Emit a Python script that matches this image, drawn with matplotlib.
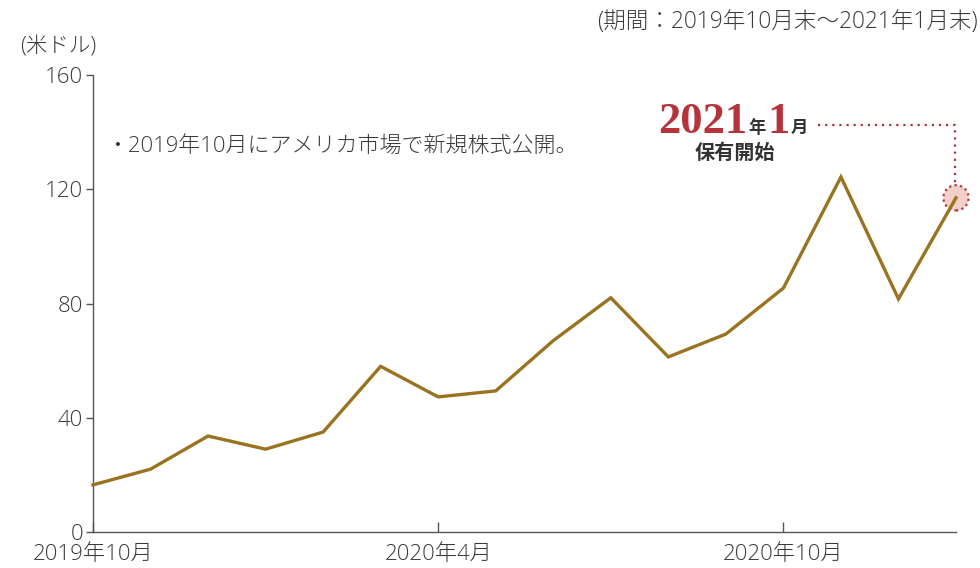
import matplotlib
matplotlib.use("Agg")
import matplotlib.pyplot as plt

plt.rcParams['font.family'] = ['Open Sans', 'Noto Sans CJK JP', 'DejaVu Sans']
plt.rcParams['font.weight'] = 'light'

months = ["2019-10", "2019-11", "2019-12", "2020-01", "2020-02", "2020-03",
          "2020-04", "2020-05", "2020-06", "2020-07", "2020-08", "2020-09",
          "2020-10", "2020-11", "2020-12", "2021-01"]
prices = [16.5, 22, 33.6, 29, 35, 58, 47.3, 49.4, 67, 82, 61.3, 69.3, 85.4, 124.3, 81.6, 117]
xtick_idx = [0, 6, 12]
xtick_labels = ["2019年10月", "2020年4月", "2020年10月"]
yticks = [0, 40, 80, 120, 160]

fig = plt.figure(figsize=(9.8, 5.68), dpi=100)
ax = fig.add_axes([93/980, 36/568, (956-93)/980, (532-75)/568])

x = list(range(len(months)))
ax.plot(x, prices, color='#9A7320', lw=2.4, solid_joinstyle='miter', zorder=3, clip_on=False)
ax.scatter([x[-1]], [prices[-1]], s=330, facecolor='#F2CFC8', edgecolor='#B5343C',
           linewidths=1.6, linestyle=(0, (1, 1.5)), zorder=2, clip_on=False)

ax.set_xlim(0, 15)
ax.set_ylim(0, 160)
ax.set_yticks(yticks)
ax.set_xticks(xtick_idx)
ax.set_xticklabels(xtick_labels)
for s in ['top', 'right']:
    ax.spines[s].set_visible(False)
for s in ['left', 'bottom']:
    ax.spines[s].set_color('#555555')
    ax.spines[s].set_linewidth(1.0)
ax.tick_params(axis='y', direction='out', length=5, width=1, color='#555555',
               labelsize=16, labelcolor='#3a3a3a', pad=2)
ax.tick_params(axis='x', direction='in', length=7, width=1, color='#555555',
               labelsize=16, labelcolor='#3a3a3a', pad=9)

fig.text(20/980, 1 - 47/568, "(米ドル)", fontsize=15.5, color='#3a3a3a', va='center', ha='left')
fig.text(978/980, 1 - 22/568, "(期間：2019年10月末～2021年1月末)", fontsize=16.3,
         color='#3a3a3a', va='center', ha='right')
fig.text(106/980, 1 - 147/568, "・2019年10月にアメリカ市場で新規株式公開。", fontsize=15.8,
         color='#3a3a3a', va='center', ha='left')

# annotation "2021年1月 保有開始"
red = '#B5343C'
dark = '#333333'
ybase = 1 - 133/568
fig.text(658/980, ybase, "2021", fontsize=32, color=red, family='Liberation Serif',
         weight='bold', va='baseline', ha='left')
fig.text(748/980, ybase, "年", fontsize=12.5, color=dark, family='Noto Sans CJK JP',
         weight='bold', va='baseline', ha='left')
fig.text(767/980, ybase, "1", fontsize=32, color=red, family='Liberation Serif',
         weight='bold', va='baseline', ha='left')
fig.text(791/980, ybase, "月", fontsize=12.5, color=dark, family='Noto Sans CJK JP',
         weight='bold', va='baseline', ha='left')
fig.text(735/980, 1 - 152/568, "保有開始", fontsize=14.5, color=dark, family='Noto Sans CJK JP',
         weight='bold', va='center', ha='center')

# dotted leader line
fig.add_artist(plt.Line2D([818/980, 955/980, 955/980], [1 - 125/568, 1 - 125/568, 1 - 186/568],
                          transform=fig.transFigure, color=red, lw=1.6,
                          linestyle=(0, (1, 2.2))))

fig.savefig("out.png", dpi=100)
